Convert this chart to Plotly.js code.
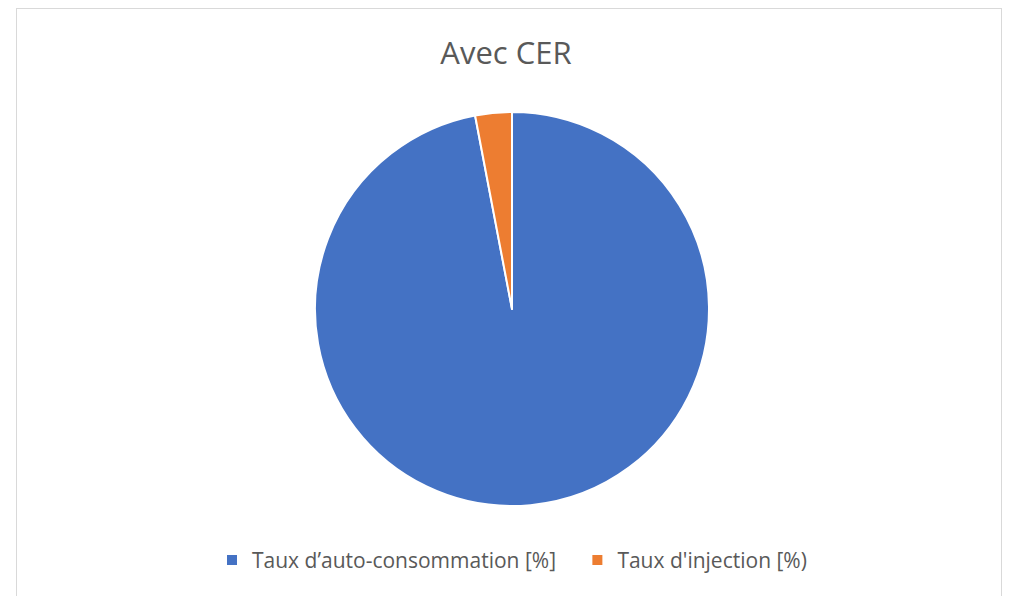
<!DOCTYPE html>
<html>
<head>
<meta charset="utf-8">
<script src="https://cdn.plot.ly/plotly-3.0.1.min.js"></script>
<style>
html,body{margin:0;padding:0;background:#fff;}
#frame{position:absolute;left:16px;top:8px;width:986px;height:600px;border:1px solid #d9d9d9;border-bottom:none;box-sizing:border-box;}
#chart{position:absolute;left:0;top:0;width:1012px;height:596px;}
</style>
</head>
<body>
<div id="chart"></div>
<div id="frame"></div>
<script>
const labels = ["Taux d’auto-consommation [%]\u00a0\u00a0\u00a0", "Taux d'injection [%)"];
const values = [97, 3];
const colors = ["#4472C4", "#ED7D31"];

Plotly.newPlot('chart', [{
  type: 'pie',
  labels: labels,
  values: values,
  sort: false,
  direction: 'clockwise',
  rotation: 0,
  textinfo: 'none',
  hoverinfo: 'label+value',
  marker: {colors: colors, line: {color: '#ffffff', width: 2}},
  domain: {x: [0, 1], y: [0, 1]}
}], {
  width: 1012,
  height: 596,
  margin: {l: 12, r: 0, t: 112, b: 90},
  paper_bgcolor: '#ffffff',
  font: {family: 'Open Sans, sans-serif', color: '#595959'},
  title: {text: 'Avec CER', font: {size: 31, color: '#595959', family: 'Open Sans, sans-serif'}, x: 0.5, xanchor: 'center', yref: 'container', y: 0.91, yanchor: 'middle'},
  showlegend: true,
  legend: {orientation: 'h', x: 0.5, xanchor: 'center', yref: 'container', y: 0.06, yanchor: 'middle', font: {size: 21, color: '#595959', family: 'Open Sans, sans-serif'}, itemwidth: 30}
}, {displayModeBar: false});
</script>
</body>
</html>
